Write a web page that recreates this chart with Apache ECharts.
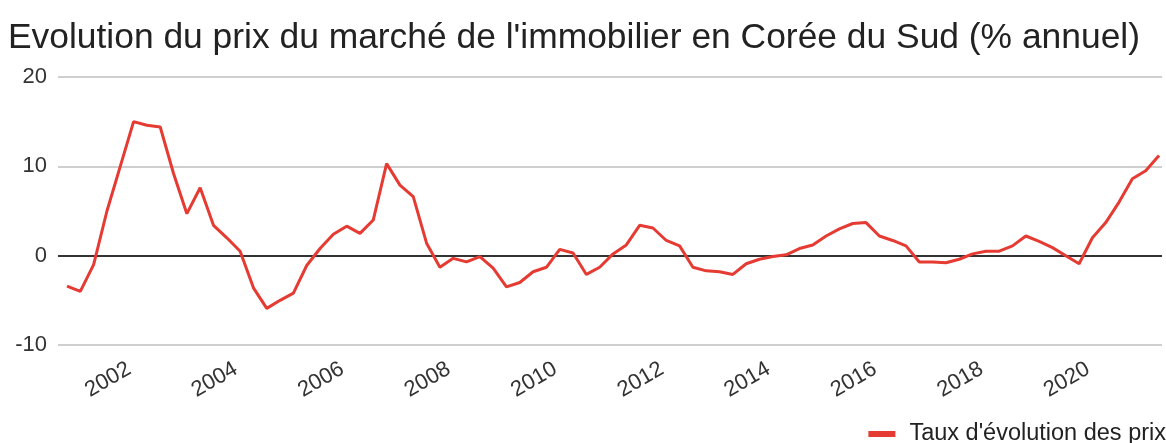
<!DOCTYPE html>
<html>
<head>
<meta charset="utf-8">
<script src="https://cdn.jsdelivr.net/npm/echarts@6/dist/echarts.min.js"></script>
<style>
  html, body { margin: 0; padding: 0; background: #fff; }
  #chart { width: 1166px; height: 443px; }
</style>
</head>
<body>
<div id="chart"></div>
<script>
// trimestres (année, trimestre)
const quarters = [
  '2000T4',
  '2001T1', '2001T2', '2001T3', '2001T4',
  '2002T1', '2002T2', '2002T3', '2002T4',
  '2003T1', '2003T2', '2003T3', '2003T4',
  '2004T1', '2004T2', '2004T3', '2004T4',
  '2005T1', '2005T2', '2005T3', '2005T4',
  '2006T1', '2006T2', '2006T3', '2006T4',
  '2007T1', '2007T2', '2007T3', '2007T4',
  '2008T1', '2008T2', '2008T3', '2008T4',
  '2009T1', '2009T2', '2009T3', '2009T4',
  '2010T1', '2010T2', '2010T3', '2010T4',
  '2011T1', '2011T2', '2011T3', '2011T4',
  '2012T1', '2012T2', '2012T3', '2012T4',
  '2013T1', '2013T2', '2013T3', '2013T4',
  '2014T1', '2014T2', '2014T3', '2014T4',
  '2015T1', '2015T2', '2015T3', '2015T4',
  '2016T1', '2016T2', '2016T3', '2016T4',
  '2017T1', '2017T2', '2017T3', '2017T4',
  '2018T1', '2018T2', '2018T3', '2018T4',
  '2019T1', '2019T2', '2019T3', '2019T4',
  '2020T1', '2020T2', '2020T3', '2020T4',
  '2021T1', '2021T2'
];

// taux d'évolution annuel (%)
const priceGrowth = [
  -3.4,
  -4.0, -1.0, 5.0, 10.0,
  15.0, 14.6, 14.4, 9.2,
  4.7, 7.6, 3.4, 2.0,
  0.5, -3.6, -5.9, -5.0,
  -4.2, -1.1, 0.8, 2.4,
  3.3, 2.5, 4.0, 10.3,
  7.9, 6.6, 1.4, -1.3,
  -0.3, -0.7, -0.1, -1.4,
  -3.5, -3.0, -1.8, -1.3,
  0.7, 0.3, -2.1, -1.3,
  0.2, 1.2, 3.4, 3.1,
  1.7, 1.1, -1.3, -1.7,
  -1.8, -2.1, -0.9, -0.4,
  -0.1, 0.1, 0.8, 1.2,
  2.2, 3.0, 3.6, 3.7,
  2.2, 1.7, 1.1, -0.7,
  -0.7, -0.8, -0.4, 0.2,
  0.5, 0.5, 1.1, 2.2,
  1.6, 0.9, 0.0, -0.9,
  2.0, 3.7, 6.0, 8.6,
  9.5, 11.2
];

const yearTicks = [2002, 2004, 2006, 2008, 2010, 2012, 2014, 2016, 2018, 2020];
const yTicks = [-10, 0, 10, 20];

const FONT = '"Liberation Sans", Arial, sans-serif';
const RED = '#e53b32';

// trimestre -> année décimale
function quarterToX(q) {
  const [y, t] = q.split('T').map(Number);
  return y + (t - 1) / 4;
}

const seriesData = quarters.map((q, i) => [quarterToX(q), priceGrowth[i]]);

const chart = echarts.init(document.getElementById('chart'), null, { renderer: 'canvas' });

const option = {
  backgroundColor: '#fff',
  animation: false,
  title: {
    text: "Evolution du prix du marché de l'immobilier en Corée du Sud (% annuel)",
    left: 3,
    top: 16,
    textStyle: { fontFamily: FONT, fontSize: 35.4, fontWeight: 'normal', color: '#222' },
  },
  legend: {
    right: 0,
    top: 422,
    padding: 0,
    icon: 'rect',
    itemWidth: 27,
    itemHeight: 6,
    textStyle: { fontFamily: FONT, fontSize: 23.5, color: '#222', padding: [0, 0, 0, 9] },
  },
  grid: { left: 58, right: 4, top: 77, bottom: 98, containLabel: false },
  xAxis: {
    type: 'value',
    min: 2000.581,
    max: 2021.306,
    axisLine: { show: false },
    axisTick: { show: false },
    splitLine: { show: false },
    axisLabel: {
      customValues: yearTicks,
      rotate: 30,
      margin: 20,
      padding: [0, 5, 0, 0],
      fontFamily: FONT,
      fontSize: 22,
      color: '#333',
      formatter: (v) => String(Math.round(v)),
    },
  },
  yAxis: {
    type: 'value',
    min: -10,
    max: 20,
    interval: 10,
    axisLine: { show: false },
    axisTick: { show: false },
    splitLine: { lineStyle: { color: '#cfcfcf', width: 2 } },
    axisLabel: {
      customValues: yTicks,
      margin: 11,
      fontFamily: FONT,
      fontSize: 22,
      color: '#333',
    },
  },
  series: [
    {
      name: "Taux d'évolution des prix",
      type: 'line',
      data: seriesData,
      showSymbol: false,
      symbol: 'none',
      lineStyle: { color: RED, width: 3 },
      itemStyle: { color: RED },
      z: 3,
      markLine: {
        silent: true,
        symbol: 'none',
        label: { show: false },
        lineStyle: { color: '#333', width: 2, type: 'solid' },
        data: [{ yAxis: 0 }],
        z: 2,
      },
    },
  ],
};

chart.setOption(option);
</script>
</body>
</html>
